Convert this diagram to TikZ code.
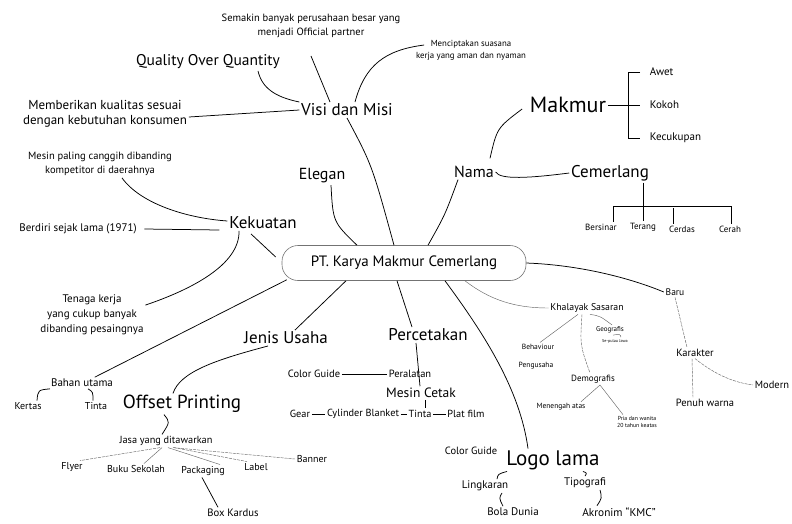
\documentclass[tikz,border=0pt]{standalone}
\usepackage{fontspec}
\setmainfont{PT Sans}
\usetikzlibrary{positioning}

\begin{document}
\begin{tikzpicture}[x=1pt,y=-1pt,inner sep=1.5pt,line width=0.75pt,
  fs/.style 2 args={font=\fontsize{#1}{#2}\selectfont},
  thinlink/.style={line width=0.45pt,black!60},
  dashlink/.style={line width=0.45pt,black!60,dash pattern=on 3pt off 1pt}]
\useasboundingbox (0,0) rectangle (792,523);
\node[fs={15}{16},draw=black!55,line width=0.6pt,rounded corners=16pt,minimum width=244pt,minimum height=35pt] (root) at (404,263) {PT. Karya Makmur Cemerlang};
\node[fs={17}{17}] (visi) at (347,110) {Visi dan Misi};
\node[fs={10.5}{14.5},align=center] (semakin) at (311,26) {Semakin banyak perusahaan besar yang\\menjadi Official partner};
\node[fs={8.8}{12},align=center] (cipta) at (471,50) {Menciptakan suasana\\kerja yang aman dan nyaman};
\node[fs={15.5}{16}] (quality) at (208,62) {Quality Over Quantity};
\node[fs={13}{15.5},align=center] (beri) at (105,114) {Memberikan kualitas sesuai\\dengan kebutuhan konsumen};
\node[fs={10.5}{14.5},align=center] (canggih) at (100,164) {Mesin paling canggih dibanding\\kompetitor di daerahnya};
\node[fs={16}{16}] (elegan) at (322,176) {Elegan};
\node[fs={17}{17}] (kekuatan) at (263,223) {Kekuatan};
\node[fs={11}{11}] (berdiri) at (78,229) {Berdiri sejak lama (1971)};
\node[fs={11}{15},align=center] (tenaga) at (92,315) {Tenaga kerja\\yang cukup banyak\\dibanding pesaingnya};
\node[fs={17}{17}] (jenis) at (286,338) {Jenis Usaha};
\node[fs={17}{17}] (cetak) at (428,335) {Percetakan};
\node[fs={16}{16}] (nama) at (474,172) {Nama};
\node[fs={22}{22}] (makmur) at (568,105) {Makmur};
\node[fs={11}{11},anchor=west] (awet) at (648,72) {Awet};
\node[fs={11}{11},anchor=west] (kokoh) at (648,105) {Kokoh};
\node[fs={11}{11},anchor=west] (kecukupan) at (648,138) {Kecukupan};
\node[fs={17}{17}] (cemerlang) at (610,173) {Cemerlang};
\node[fs={9}{9}] (bersinar) at (601,227) {Bersinar};
\node[fs={9}{9}] (terang) at (643,227) {Terang};
\node[fs={9}{9}] (cerdas) at (682,229) {Cerdas};
\node[fs={9}{9}] (cerah) at (730,229) {Cerah};
\node[fs={9.5}{9.5}] (baru) at (675,292) {Baru};
\node[fs={10.5}{10.5}] (karakter) at (695,353) {Karakter};
\node[fs={10.5}{10.5}] (modern) at (772,385) {Modern};
\node[fs={10.5}{10.5}] (penuh) at (705,403) {Penuh warna};
\node[fs={9.8}{9.8}] (khalayak) at (587,308) {Khalayak Sasaran};
\node[fs={7}{7}] (geografis) at (610,330) {Geografis};
\node[fs={4.2}{4.2}] (jawa) at (615,341) {Se-pulau Jawa};
\node[fs={7.5}{7.5}] (behaviour) at (538,347) {Behaviour};
\node[fs={7.5}{7.5}] (pengusaha) at (536,366) {Pengusaha};
\node[fs={9}{9}] (demografis) at (593,379) {Demografis};
\node[fs={7.5}{7.5}] (menengah) at (561,407) {Menengah atas};
\node[fs={5.8}{6.8},align=center] (pria) at (637,422) {Pria dan wanita\\20 tahun keatas};
\node[fs={10.5}{10.5}] (guideA) at (314,374) {Color Guide};
\node[fs={10.5}{10.5}] (peralatan) at (410,374) {Peralatan};
\node[fs={13.5}{13.5}] (mesin) at (421,393) {Mesin Cetak};
\node[fs={10.3}{10.3}] (gear) at (300,414) {Gear};
\node[fs={10.3}{10.3}] (cylinder) at (363,414) {Cylinder Blanket};
\node[fs={10.3}{10.3}] (tintaB) at (420,414) {Tinta};
\node[fs={10.3}{10.3}] (plat) at (466,414) {Plat film};
\node[fs={21}{21}] (logo) at (553,460) {Logo lama};
\node[fs={10.5}{10.5}] (guideB) at (471,451) {Color Guide};
\node[fs={11}{11}] (lingkaran) at (485,486) {Lingkaran};
\node[fs={11}{11}] (bola) at (513,512) {Bola Dunia};
\node[fs={11}{11}] (tipo) at (585,483) {Tipografi};
\node[fs={11.3}{11.3}] (akronim) at (619,512) {Akronim “KMC”};
\node[fs={19}{19}] (offset) at (182,404) {Offset Printing};
\node[fs={11}{11}] (bahan) at (82,383) {Bahan utama};
\node[fs={10}{10}] (kertas) at (28,406) {Kertas};
\node[fs={10}{10}] (tintaA) at (96,406) {Tinta};
\node[fs={10.3}{10.3}] (jasa) at (166,441) {Jasa yang ditawarkan};
\node[fs={10}{10}] (flyer) at (72,467) {Flyer};
\node[fs={10}{10}] (buku) at (136,469) {Buku Sekolah};
\node[fs={10}{10}] (packaging) at (203,471) {Packaging};
\node[fs={10}{10}] (label) at (256,467) {Label};
\node[fs={10}{10}] (banner) at (312,459) {Banner};
\node[fs={10.7}{10.7}] (box) at (233,513) {Box Kardus};
\draw (visi.south) .. controls (372,165) .. ([xshift=-10pt]root.north);
\draw ([xshift=-17pt]visi.north) -- ([yshift=-16pt]semakin.south);
\draw ([xshift=8pt]visi.north) .. controls (365,65) and (385,50) .. ([xshift=10pt,yshift=5pt]cipta.west);
\draw ([yshift=8pt]visi.west) .. controls (275,97) and (262,88) .. ([xshift=50pt]quality.south);
\draw ([yshift=-3pt]beri.east) -- (visi.west);
\draw ([xshift=9pt]elegan.south) .. controls (333,222) .. ([xshift=-47pt]root.north);
\draw ([xshift=-12pt,yshift=-3pt]kekuatan.south) -- ([xshift=-6pt,yshift=6pt]root.west);
\draw ([xshift=6pt]berdiri.east) -- ([xshift=-8pt,yshift=-7pt]kekuatan.west);
\draw ([yshift=2pt]kekuatan.west) .. controls (185,218) and (140,203) .. ([xshift=22pt]canggih.south);
\draw ([xshift=-24pt]kekuatan.south) .. controls (240,265) and (190,290) .. ([yshift=-12pt]tenaga.north east);
\draw ([xshift=5pt,yshift=1pt]root.south west) -- ([xshift=-20pt]bahan.north east);
\draw ([xshift=-58pt]root.south) -- ([xshift=9pt]jenis.north);
\draw ([xshift=-7pt]root.south) -- ([xshift=-16pt]cetak.north);
\draw ([xshift=41pt]root.south) .. controls (485,335) and (520,390) .. ([xshift=-25pt]logo.north);
\draw[thinlink] ([xshift=61pt]root.south) .. controls (490,300) and (515,308) .. (khalayak.west);
\draw (root.east) .. controls (580,265) and (630,278) .. (baru.west);
\draw[dashlink] (baru.south) -- ([xshift=-8pt]karakter.north);
\draw[dashlink] (karakter.south) .. controls (712,372) and (730,382) .. (modern.west);
\draw[dashlink] ([xshift=-3pt]karakter.south) -- ([xshift=-12pt]penuh.north);
\draw[thinlink] ([xshift=-9pt]khalayak.south) -- ([xshift=2pt]behaviour.north);
\draw[dashlink] ([xshift=-5pt]khalayak.south) .. controls (580,345) .. ([xshift=-3pt]demografis.north);
\draw[thinlink] ([xshift=3pt]khalayak.south) .. controls (600,316) .. ([xshift=2pt]geografis.north);
\draw[thinlink] ([xshift=3pt]geografis.south) .. controls (620,334) .. ([xshift=6pt]jawa.north);
\draw[thinlink] ([xshift=7pt]demografis.south) -- ([xshift=20pt]menengah.north);
\draw[thinlink] ([xshift=7pt]demografis.south) -- ([xshift=-14pt]pria.north);
\draw ([xshift=-12pt]cetak.south) -- ([xshift=-1pt]mesin.north);
\draw (guideA.east) -- (peralatan.west);
\draw ([xshift=4pt]mesin.south) -- ([xshift=5pt]tintaB.north);
\draw (gear.east) -- (cylinder.west);
\draw (cylinder.east) -- (tintaB.west);
\draw (tintaB.east) -- (plat.west);
\draw ([xshift=-18pt]jenis.south) .. controls (215,360) and (180,372) .. ([xshift=-9pt]offset.north);
\draw ([xshift=-18pt]offset.south) .. controls (170,422) .. ([xshift=-4pt]jasa.north);
\draw ([xshift=-32pt]bahan.south) .. controls (38,390) .. ([xshift=9pt]kertas.north);
\draw ([xshift=6pt]bahan.south) .. controls (93,392) .. ([xshift=-3pt]tintaA.north);
\draw[dashlink] ([xshift=-6pt]jasa.south) -- ([xshift=8pt]flyer.north);
\draw[thinlink] ([xshift=-4pt]jasa.south) -- ([xshift=8pt]buku.north);
\draw[thinlink] ([xshift=2pt]jasa.south) -- ([xshift=17pt]packaging.north);
\draw[dashlink] ([xshift=8pt]jasa.south) -- ([xshift=-9pt]label.north);
\draw[dashlink] ([xshift=7pt]jasa.south) -- (banner.west);
\draw ([xshift=-1pt]packaging.south) -- ([xshift=-15pt]box.north);
\draw ([xshift=-16pt]nama.south) .. controls (445,215) .. ([xshift=24pt]root.north);
\draw ([xshift=16pt,yshift=6pt]nama.north) .. controls (497,128) .. ([xshift=-6pt,yshift=-4pt]makmur.west);
\draw (nama.east) .. controls (500,180) and (530,178) .. (cemerlang.west);
\draw (makmur.east) -- ([xshift=-8pt]kokoh.west);
\draw ([xshift=-8pt]awet.west) -- ++(-12,0) -- ([xshift=-20pt]kecukupan.west) -- ([xshift=-8pt]kecukupan.west);
\draw ([xshift=33pt]cemerlang.south) -- (terang.north);
\draw ([xshift=12pt]bersinar.north) -- ++(0,-16) -| ([xshift=1pt]cerah.north);
\draw ([xshift=-9pt]cerdas.north) -- ++(0,-16);
\draw ([xshift=-46pt]logo.south) .. controls (498,474) .. ([xshift=12pt]lingkaran.north);
\draw ([xshift=17pt]lingkaran.south) .. controls (499,498) .. ([xshift=-10pt]bola.north);
\draw ([xshift=30pt]logo.south) .. controls (587,473) .. (tipo.north);
\draw ([xshift=15pt]tipo.south) .. controls (602,498) .. ([xshift=-22pt]akronim.north);
\end{tikzpicture}
\end{document}
